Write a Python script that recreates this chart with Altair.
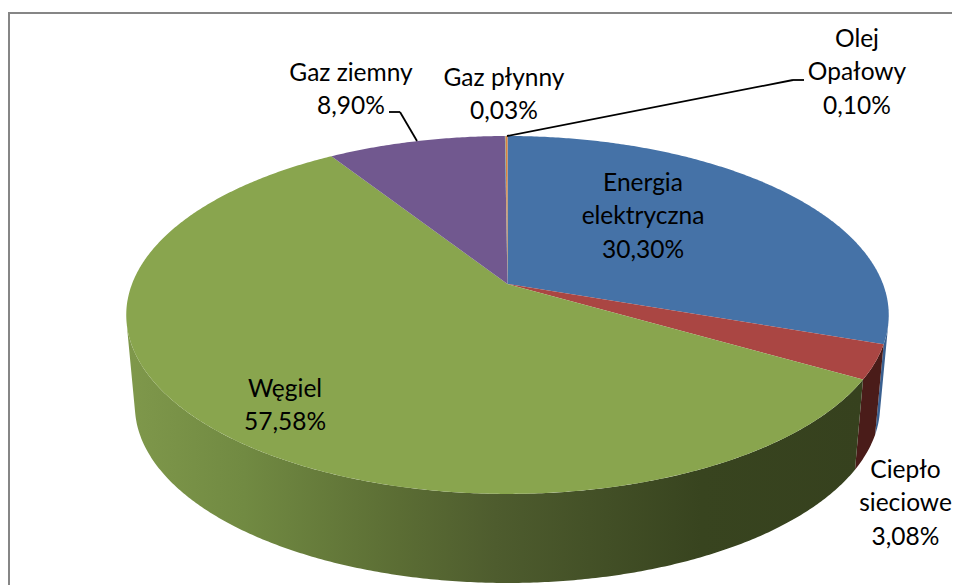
import math
import altair as alt

# --- data ---
categories = ["Energia elektryczna", "Ciepło sieciowe", "Węgiel", "Gaz ziemny", "Gaz płynny", "Olej Opałowy"]
shares = [30.30, 3.08, 57.58, 8.90, 0.03, 0.10]
share_labels = ["30,30%", "3,08%", "57,58%", "8,90%", "0,03%", "0,10%"]
label_lines = [["Energia", "elektryczna"], ["Ciepło", "sieciowe"], ["Węgiel"], ["Gaz ziemny"], ["Gaz płynny"], ["Olej", "Opałowy"]]
colors = ["#4572A7", "#AA4643", "#89A54E", "#71588F", "#4198AF", "#DB843D"]

# --- layout (page pixels) ---
OFF = 8
W, H = 944, 577
CX = 507.5
P = 0.173
TOP = dict(A=375.5, B=173.6, y0=284.0)
BOT = dict(A=367.0, B=172.0, y0=375.0)
label_pos = [(643, 183.5), (905.5, 470.5), (285, 389.5), (351, 73.5), (504, 78.5), (857, 39.5)]
LINE = 33.5
FONT = "Lato"
FS = 24.5
leaders = [[(507, 136), (793, 80), (804, 80)], [(389, 112), (400, 112), (417, 141)]]


def pt(theta, g):
    u, v = math.sin(theta), math.cos(theta)
    w = 1 + P * v
    return [CX + g["A"] * u / w, g["y0"] - g["B"] * v / w]


def arc(a, b, g):
    n = max(2, int(abs(b - a) * 120))
    return [pt(a + (b - a) * i / n, g) for i in range(n + 1)]


def feature(ring):
    return {"type": "Feature", "properties": {}, "geometry": {"type": "Polygon", "coordinates": [ring + [ring[0]]]}}


def facing(t):
    e = 1e-3
    p0, p1 = pt(t - e, TOP), pt(t + e, TOP)
    tx, ty = p1[0] - p0[0], p1[1] - p0[1]
    t0, b0 = pt(t, TOP), pt(t, BOT)
    return tx * (b0[1] - t0[1]) - ty * (b0[0] - t0[0])


def limit(step):
    """Walk from the front of the pie to where the wall turns away from the viewer."""
    t = math.pi
    s = facing(t)
    while facing(t + step) * s > 0:
        t += step
    return t


total = sum(shares)
edges = [0.0]
for s in shares:
    edges.append(edges[-1] + s / total * 2 * math.pi)
right_limit, left_limit = limit(-0.002), limit(0.002)


def shape(ring, fill):
    return (alt.Chart(alt.Data(values=[feature(ring)]))
            .mark_geoshape(fill=fill, strokeWidth=0, stroke="transparent")
            .project(type="identity", scale=1, translate=[-OFF, -OFF]))


def hgrad(stops):
    return alt.Gradient(gradient="linear", x1=0, x2=1, y1=0, y2=0,
                        stops=[alt.GradientStop(offset=o, color=c) for o, c in stops])


layers = []
# side walls
wall_fills = {
    0: "#3A6090",
    1: "#4A1C19",
    2: hgrad([(0, "#7F984B"), (0.16, "#718A42"), (0.37, "#5B6D34"), (0.5, "#4E5C2E"),
              (0.78, "#38441F"), (1, "#36411E")]),
}
for i, fill in wall_fills.items():
    a, b = max(edges[i], right_limit), min(edges[i + 1], left_limit)
    layers.append(shape(arc(a, b, TOP) + arc(b, a, BOT), fill))

# top surface
apex = [CX, TOP["y0"]]
for i, c in enumerate(colors):
    layers.append(shape([apex] + arc(edges[i], edges[i + 1], TOP), c))

one = alt.Data(values=[{"a": 1}])
# frame
layers.append(alt.Chart(one).mark_rule(color="#868686", strokeWidth=2).encode(
    x=alt.value(9 - OFF), x2=alt.value(9 - OFF), y=alt.value(12 - OFF), y2=alt.value(H)))
layers.append(alt.Chart(one).mark_rule(color="#868686", strokeWidth=2).encode(
    x=alt.value(8 - OFF), x2=alt.value(W), y=alt.value(13 - OFF), y2=alt.value(13 - OFF)))

# leader lines
for path in leaders:
    for (x1, y1), (x2, y2) in zip(path, path[1:]):
        layers.append(alt.Chart(one).mark_rule(color="#000000", strokeWidth=1.8).encode(
            x=alt.value(x1 - OFF), y=alt.value(y1 - OFF), x2=alt.value(x2 - OFF), y2=alt.value(y2 - OFF)))

# labels
for lines, pct, (x, y) in zip(label_lines, share_labels, label_pos):
    for k, t in enumerate(lines + [pct]):
        layers.append(alt.Chart(alt.Data(values=[{"t": t}])).mark_text(
            font=FONT, fontSize=FS, color="#000000", align="center", baseline="middle"
        ).encode(text="t:N", x=alt.value(x - OFF), y=alt.value(y - OFF + k * LINE)))

chart = alt.layer(*layers).properties(
    width=W, height=H, padding=0, autosize=alt.AutoSizeParams(type="none"), background="white"
).configure_view(stroke=None)

chart.save("out.html", embed_options={"renderer": "svg", "actions": False})
